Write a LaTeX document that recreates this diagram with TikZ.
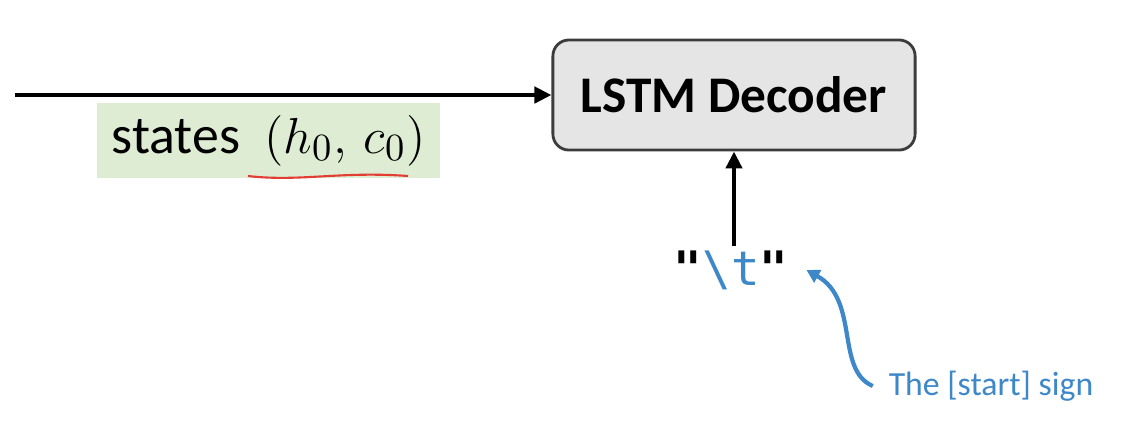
\documentclass[tikz,border=0pt]{standalone}
\usepackage{fontspec}
\setmainfont{Carlito}
\setmonofont{DejaVu Sans Mono}
\usepackage{amsmath}
\usetikzlibrary{arrows.meta,positioning}
\definecolor{boxgray}{RGB}{229,229,229}
\definecolor{edgegray}{RGB}{60,60,60}
\definecolor{stategreen}{RGB}{221,236,211}
\definecolor{signblue}{RGB}{62,136,202}
\definecolor{markred}{RGB}{226,62,52}

\begin{document}
\begin{tikzpicture}[x=0.01cm,y=-0.01cm]
\useasboundingbox[fill=white] (0,0) rectangle (1130,420);

\node[
    draw=edgegray,
    fill=boxgray,
    line width=0.8pt,
    rounded corners=0.16cm,
    minimum width=3.62cm,
    minimum height=1.1cm,
    font=\fontsize{14.6}{17}\selectfont\bfseries
] (dec) at (734,95) {LSTM Decoder};

\coordinate (in) at (15,95);
\draw[line width=1.2pt, -{Triangle[length=0.17cm,width=0.16cm]}] (in) -- (dec.west);

\node[
    fill=stategreen,
    minimum width=3.43cm,
    minimum height=0.75cm,
    font=\fontsize{15.3}{18}\selectfont
] (states) at (268.5,140.5) {states\hspace{0.45em}$(h_0,\,c_0)$};

% hand drawn underline
\draw[markred, line width=0.6pt] (248,176) .. controls (300,182) and (340,171) .. (408,176);

\node[
    inner sep=1pt,
    font=\fontsize{13.5}{15}\ttfamily
] (start) at (731,270) {\textbf{"}\textcolor{signblue}{\textbackslash t}\textbf{"}};

\draw[line width=1.2pt, -{Triangle[length=0.17cm,width=0.16cm]}] (dec.south |- start.north) -- (dec.south);

\node[
    text=signblue,
    font=\fontsize{9.6}{12}\selectfont
] (sign) at (991,386) {The [start] sign};

\draw[signblue, line width=1.2pt, -{Triangle[length=0.13cm,width=0.14cm]}]
    ([xshift=-1pt]sign.west) .. controls (835,370) and (860,300) .. ([xshift=4pt]start.east);
\end{tikzpicture}
\end{document}
